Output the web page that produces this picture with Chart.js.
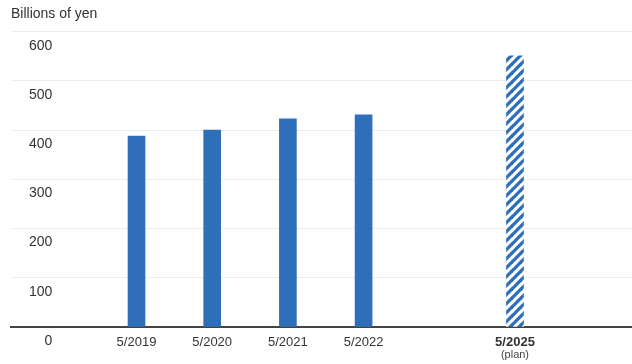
<!DOCTYPE html>
<html>
<head>
<meta charset="utf-8">
<script src="https://cdn.jsdelivr.net/npm/chart.js@4/dist/chart.umd.min.js"></script>
<style>
  html, body { margin: 0; padding: 0; background: #ffffff; }
  #wrap { width: 632px; height: 364px; }
</style>
</head>
<body>
<div id="wrap"><canvas id="chart"></canvas></div>
<script>
// Fiscal-year categories (the blank slot keeps the gap before the plan year)
const categories = ['5/2019', '5/2020', '5/2021', '5/2022', '', '5/2025'];
// Billions of yen per year
const values = [388, 400, 423, 431, null, 551];
// Which categories are plan figures
const isPlan = [false, false, false, false, false, true];
const planNote = '(plan)';
const yTicks = [0, 100, 200, 300, 400, 500, 600];
const unitLabel = 'Billions of yen';

const BLUE = '#2f6fb9';
const TEXT = '#333333';
const FONT = "'Liberation Sans', Arial, sans-serif";

// Diagonal blue/white stripes for plan bars
function stripePattern() {
  const size = 9;
  const c = document.createElement('canvas');
  c.width = size; c.height = size;
  const g = c.getContext('2d');
  g.fillStyle = '#ffffff';
  g.fillRect(0, 0, size, size);
  g.strokeStyle = BLUE;
  g.lineWidth = 3.3;
  g.lineCap = 'square';
  for (let k = -1; k <= 1; k++) {
    g.beginPath();
    g.moveTo(k * size - 1, size + 1);
    g.lineTo(k * size + size + 1, -1);
    g.stroke();
  }
  return g.createPattern(c, 'repeat');
}
const stripes = stripePattern();

const points = values
  .map((v, i) => ({ x: i, y: v }))
  .filter(p => p.y !== null);

// Small "(plan)" note under the plan year label
const planNotePlugin = {
  id: 'planNote',
  afterDraw(chart) {
    const xs = chart.scales.x;
    const ctx = chart.ctx;
    ctx.save();
    ctx.font = '11px ' + FONT;
    ctx.fillStyle = '#444444';
    ctx.textAlign = 'center';
    ctx.textBaseline = 'middle';
    categories.forEach((c, i) => {
      if (isPlan[i]) ctx.fillText(planNote, xs.getPixelForValue(i), 355);
    });
    ctx.restore();
  }
};

new Chart(document.getElementById('chart'), {
  type: 'bar',
  data: {
    datasets: [{
      data: points,
      backgroundColor: points.map(p => isPlan[p.x] ? stripes : BLUE),
      borderWidth: 0,
      barThickness: 17
    }]
  },
  options: {
    responsive: true,
    maintainAspectRatio: false,
    animation: false,
    layout: { padding: { left: 11, right: 0, top: 0, bottom: 0 } },
    plugins: {
      legend: { display: false },
      tooltip: { enabled: false },
      title: {
        display: true,
        text: unitLabel,
        align: 'start',
        color: TEXT,
        font: { family: FONT, size: 14, weight: 'normal' },
        padding: { top: 6, bottom: 9 }
      }
    },
    scales: {
      x: {
        type: 'linear',
        offset: false,
        min: -1.658,
        max: 6.546,
        afterBuildTicks(scale) {
          scale.ticks = categories.map((c, i) => ({ value: i }));
        },
        afterFit(scale) { scale.height = 37; },
        ticks: {
          autoSkip: false,
          maxRotation: 0,
          padding: 8,
          color: TEXT,
          font: ctx => ({ family: FONT, size: 13, weight: isPlan[ctx.index] ? 'bold' : 'normal' }),
          callback: v => categories[v] ?? ''
        },
        grid: { display: false, drawTicks: false },
        border: { display: true, color: '#444444', width: 2 }
      },
      y: {
        min: 0,
        max: 600,
        afterBuildTicks(scale) {
          scale.ticks = yTicks.map(v => ({ value: v }));
        },
        afterFit(scale) { scale.width = 0; },
        ticks: {
          mirror: true,
          crossAlign: 'far',
          padding: 18,
          labelOffset: 14,
          color: TEXT,
          font: { family: FONT, size: 14 }
        },
        grid: {
          drawTicks: false,
          color: ctx => ctx.tick && ctx.tick.value === 0 ? 'rgba(0,0,0,0)' : '#ececec',
          lineWidth: 1
        },
        border: { display: false }
      }
    }
  },
  plugins: [planNotePlugin]
});
</script>
</body>
</html>
